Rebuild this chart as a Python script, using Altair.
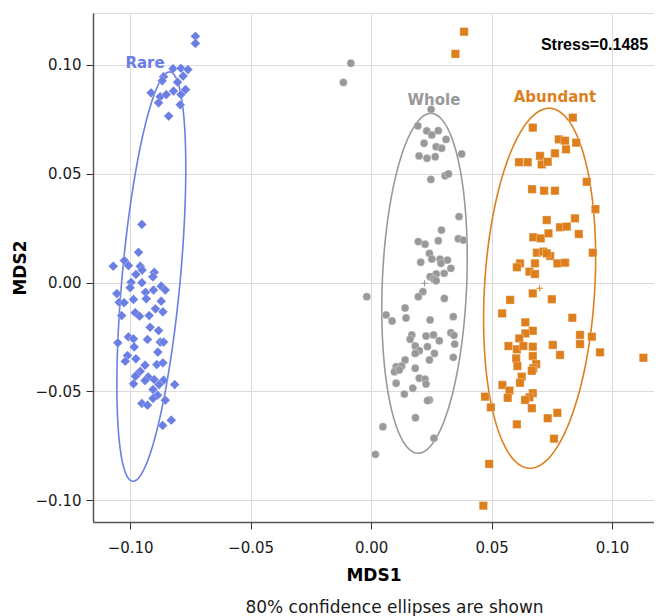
import numpy as np
import pandas as pd
import altair as alt

# ---------------- data ----------------
rare_x = [-0.0729, -0.0729, -0.0822, -0.0789, -0.0760, -0.0780, -0.0861, -0.0867, -0.0803,
          -0.0913, -0.0875, -0.0850, -0.0820, -0.0789, -0.0770, -0.0882, -0.0792, -0.0840,
          -0.0951, -0.0965, -0.1070, -0.1024, -0.1007, -0.0958, -0.0950, -0.0976, -0.0900,
          -0.0905, -0.0996, -0.1000, -0.0951, -0.1055, -0.0936, -0.0903, -0.0871, -0.0854,
          -0.0986, -0.0933, -0.0871, -0.1045, -0.1025, -0.0895, -0.0979, -0.0961, -0.0921,
          -0.0864, -0.1035, -0.0917, -0.0882, -0.1007, -0.0986, -0.0928, -0.0875, -0.0861,
          -0.1051, -0.0983, -0.0885, -0.1011, -0.1020, -0.0976, -0.0938, -0.0889, -0.0864,
          -0.0958, -0.0972, -0.0978, -0.0925, -0.0938, -0.0900, -0.0861, -0.0986, -0.0880,
          -0.0815, -0.0905, -0.0886, -0.0905, -0.0854, -0.0951, -0.0928, -0.0829, -0.0865]
rare_y = [0.1132, 0.1099, 0.0983, 0.0985, 0.0979, 0.0949, 0.0946, 0.0927, 0.0921,
          0.0872, 0.0854, 0.0864, 0.0880, 0.0864, 0.0887, 0.0826, 0.0817, 0.0765,
          0.0267, 0.0139, 0.0075, 0.0101, 0.0078, 0.0075, 0.0057, 0.0037, 0.0047,
          0.0026, 0.0001, -0.0024, -0.0001, -0.0051, -0.0045, -0.0035, -0.0017, -0.0035,
          -0.0078, -0.0075, -0.0086, -0.0091, -0.0093, -0.0121, -0.0139, -0.0155, -0.0152,
          -0.0135, -0.0152, -0.0206, -0.0221, -0.0250, -0.0259, -0.0262, -0.0274, -0.0274,
          -0.0277, -0.0296, -0.0320, -0.0336, -0.0362, -0.0351, -0.0380, -0.0377, -0.0369,
          -0.0408, -0.0423, -0.0431, -0.0434, -0.0451, -0.0446, -0.0449, -0.0466, -0.0469,
          -0.0469, -0.0492, -0.0518, -0.0533, -0.0541, -0.0556, -0.0564, -0.0633, -0.0657]

whole_x = [-0.0084, -0.0115, 0.0249, 0.0194, 0.0231, 0.0252, 0.0279, 0.0311, 0.0220, 0.0270,
           0.0293, 0.0199, 0.0232, 0.0266, 0.0376, 0.0248, 0.0307, 0.0321, 0.0365, 0.0292,
           0.0196, 0.0224, 0.0279, 0.0362, 0.0383, 0.0242, 0.0252, 0.0286, 0.0317, 0.0206,
           0.0290, 0.0331, 0.0303, 0.0270, 0.0245, 0.0261, 0.0270, 0.0215, 0.0196, -0.0018,
           0.0304, 0.0062, 0.0087, 0.0141, 0.0145, 0.0245, 0.0341, 0.0169, 0.0162, 0.0228,
           0.0259, 0.0283, 0.0331, 0.0344, 0.0183, 0.0234, 0.0347, 0.0200, 0.0183, 0.0263,
           0.0242, 0.0141, 0.0341, 0.0104, 0.0127, 0.0097, 0.0117, 0.0183, 0.0200, 0.0224,
           0.0104, 0.0228, 0.0173, 0.0138, 0.0242, 0.0234, 0.0184, 0.0049, 0.0261, 0.0018]
whole_y = [0.1008, 0.0920, 0.0796, 0.0720, 0.0697, 0.0678, 0.0698, 0.0658, 0.0640, 0.0624,
           0.0617, 0.0582, 0.0571, 0.0578, 0.0591, 0.0474, 0.0491, 0.0499, 0.0303, 0.0241,
           0.0188, 0.0176, 0.0192, 0.0201, 0.0195, 0.0134, 0.0108, 0.0107, 0.0103, 0.0093,
           0.0088, 0.0065, 0.0042, 0.0039, 0.0027, 0.0015, 0.0008, -0.0042, -0.0065, -0.0065,
           -0.0073, -0.0149, -0.0177, -0.0117, -0.0163, -0.0172, -0.0157, -0.0241, -0.0261, -0.0246,
           -0.0241, -0.0268, -0.0231, -0.0243, -0.0292, -0.0295, -0.0283, -0.0314, -0.0326, -0.0326,
           -0.0356, -0.0356, -0.0344, -0.0387, -0.0384, -0.0410, -0.0402, -0.0394, -0.0440, -0.0444,
           -0.0463, -0.0467, -0.0486, -0.0513, -0.0540, -0.0543, -0.0622, -0.0663, -0.0716, -0.0790]

abund_x = [0.0386, 0.0350, 0.0837, 0.0671, 0.0779, 0.0805, 0.0851, 0.0809, 0.0763, 0.0701,
           0.0614, 0.0650, 0.0708, 0.0733, 0.0895, 0.0668, 0.0718, 0.0763, 0.0931, 0.0729,
           0.0784, 0.0812, 0.0846, 0.0862, 0.0673, 0.0704, 0.0736, 0.0920, 0.0688, 0.0715,
           0.0743, 0.0773, 0.0805, 0.0618, 0.0680, 0.0605, 0.0729, 0.0657, 0.0680, 0.0671,
           0.0750, 0.0577, 0.0544, 0.0835, 0.0640, 0.0671, 0.0640, 0.0615, 0.0867, 0.0916,
           0.0570, 0.0605, 0.0632, 0.0671, 0.0754, 0.0867, 0.0602, 0.0671, 0.0784, 0.0950,
           0.1130, 0.0607, 0.0685, 0.0673, 0.0667, 0.0625, 0.0618, 0.0545, 0.0574, 0.0567,
           0.0671, 0.0657, 0.0639, 0.0473, 0.0497, 0.0667, 0.0773, 0.0733, 0.0605, 0.0759,
           0.0490, 0.0466]
abund_y = [0.1153, 0.1051, 0.0758, 0.0712, 0.0658, 0.0652, 0.0643, 0.0612, 0.0594, 0.0582,
           0.0553, 0.0553, 0.0543, 0.0555, 0.0463, 0.0429, 0.0422, 0.0422, 0.0337, 0.0287,
           0.0254, 0.0257, 0.0295, 0.0223, 0.0208, 0.0203, 0.0226, 0.0137, 0.0137, 0.0142,
           0.0122, 0.0088, 0.0091, 0.0088, 0.0088, 0.0070, 0.0134, 0.0050, 0.0039, -0.0050,
           -0.0077, -0.0080, -0.0142, -0.0162, -0.0183, -0.0222, -0.0234, -0.0257, -0.0241, -0.0249,
           -0.0292, -0.0307, -0.0292, -0.0295, -0.0287, -0.0283, -0.0349, -0.0338, -0.0333, -0.0321,
           -0.0346, -0.0384, -0.0375, -0.0394, -0.0406, -0.0433, -0.0461, -0.0471, -0.0497, -0.0530,
           -0.0509, -0.0528, -0.0540, -0.0525, -0.0574, -0.0578, -0.0599, -0.0624, -0.0652, -0.0718,
           -0.0834, -0.1026]

groups = ["Rare", "Whole", "Abundant"]
colors = ["#6A7EE4", "#999999", "#DE7F1E"]
shapes = ["diamond", "circle", "square"]
marker_sizes = [95, 62, 70]

label_x = [-0.0938, 0.0261, 0.0763]
label_y = [0.1011, 0.0840, 0.0854]

stress_text = "Stress=0.1485"
stress_x = [0.0927]
stress_y = [0.1092]

x_domain = [-0.1154, 0.1174]
y_domain = [-0.1101, 0.1239]
ticks = [-0.10, -0.05, 0.00, 0.05, 0.10]

ELLIPSE_LEVEL_RADIUS = 1.81  # sqrt(2 * F(0.80; 2, n-1))

# ---------------- tables ----------------
pts = pd.concat([
    pd.DataFrame({"MDS1": rare_x, "MDS2": rare_y, "group": "Rare"}),
    pd.DataFrame({"MDS1": whole_x, "MDS2": whole_y, "group": "Whole"}),
    pd.DataFrame({"MDS1": abund_x, "MDS2": abund_y, "group": "Abundant"}),
], ignore_index=True)

ell_rows, cen_rows = [], []
for g, xs_, ys_ in [("Rare", rare_x, rare_y), ("Whole", whole_x, whole_y), ("Abundant", abund_x, abund_y)]:
    X = np.array([xs_, ys_])
    mu = X.mean(axis=1)
    C = np.cov(X)
    vals, vecs = np.linalg.eigh(C)
    t = np.linspace(0, 2 * np.pi, 181)
    circ = np.stack([np.cos(t), np.sin(t)])
    e = mu[:, None] + ELLIPSE_LEVEL_RADIUS * (vecs @ (np.sqrt(vals)[:, None] * circ))
    for i in range(e.shape[1]):
        ell_rows.append({"MDS1": e[0, i], "MDS2": e[1, i], "group": g, "ord": i})
    cen_rows.append({"MDS1": mu[0], "MDS2": mu[1], "group": g})
ell = pd.DataFrame(ell_rows)
cen = pd.DataFrame(cen_rows)
labels = pd.DataFrame({"MDS1": label_x, "MDS2": label_y, "group": groups})
stress = pd.DataFrame({"MDS1": stress_x, "MDS2": stress_y, "txt": [stress_text]})

FONT = "DejaVu Sans"
xs = alt.Scale(domain=x_domain, nice=False, zero=False)
ys = alt.Scale(domain=y_domain, nice=False, zero=False)
col = alt.Color("group:N", scale=alt.Scale(domain=groups, range=colors), legend=None)

common_axis = dict(values=ticks, format=".2f", tickSize=7, labelFontSize=15,
                   titleFontSize=17, titleFontWeight="bold", labelColor="#1a1a1a",
                   titleColor="#000000", tickColor="#333333", domainColor="#555555",
                   domainWidth=1.5, gridColor="#dcdcdc", gridWidth=1,
                   labelFont=FONT, titleFont=FONT)
xenc = alt.X("MDS1:Q", scale=xs, axis=alt.Axis(title="MDS1", labelPadding=11,
                                               titlePadding=12, **common_axis))
yenc = alt.Y("MDS2:Q", scale=ys, axis=alt.Axis(title="MDS2", labelPadding=5,
                                               titlePadding=6, **common_axis))

points = alt.Chart(pts).mark_point(filled=True, opacity=1,
                                   stroke="white", strokeWidth=0.3).encode(
    x=xenc, y=yenc, color=col,
    shape=alt.Shape("group:N", scale=alt.Scale(domain=groups, range=shapes), legend=None),
    size=alt.Size("group:N", scale=alt.Scale(type="ordinal", domain=groups, range=marker_sizes),
                  legend=None),
)

ellipses = alt.Chart(ell).mark_line(strokeWidth=1.6).encode(
    x="MDS1:Q", y="MDS2:Q", color=col, detail="group:N", order="ord:Q")

centers = alt.Chart(cen).mark_point(shape="M-1,0L1,0M0,-1L0,1", filled=False,
                                    size=40, strokeWidth=1, opacity=1).encode(
    x="MDS1:Q", y="MDS2:Q", color=col)

lbl = alt.Chart(labels).mark_text(fontSize=15, fontWeight="bold", font=FONT).encode(
    x="MDS1:Q", y="MDS2:Q", text="group:N", color=col)

st = alt.Chart(stress).mark_text(fontSize=16, fontWeight="bold", font="Liberation Sans",
                                 color="#000000").encode(
    x="MDS1:Q", y="MDS2:Q", text="txt:N")

chart = alt.layer(ellipses, points, centers, lbl, st).properties(
    width=561, height=509,
    autosize=alt.AutoSizeParams(type="none"),
    padding={"left": 85, "top": 5, "right": 0, "bottom": 101},
    title=alt.TitleParams("80% confidence ellipses are shown", orient="bottom",
                          anchor="middle", dx=21, fontSize=17, fontWeight="normal",
                          font=FONT, color="#1a1a1a", offset=17),
).configure_view(stroke="#666666", strokeWidth=1.2).configure(background="white")

chart.save("out.html", embed_options={"renderer": "svg", "actions": False})
